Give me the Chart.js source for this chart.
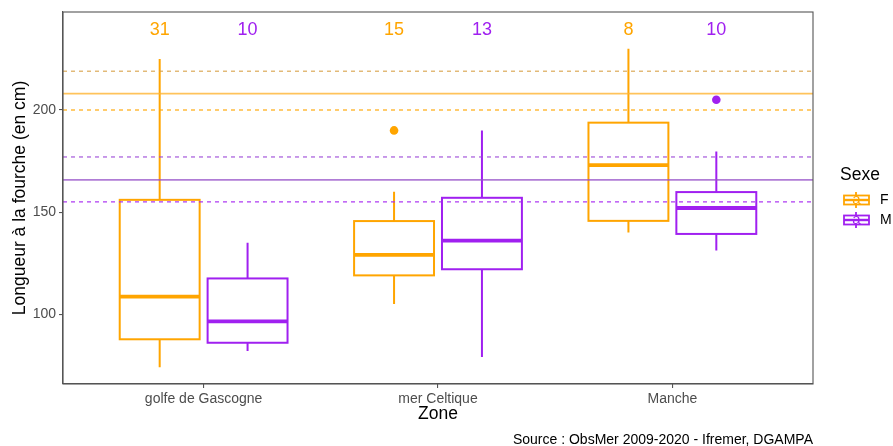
<!DOCTYPE html>
<html>
<head>
<meta charset="utf-8">
<script src="https://cdn.jsdelivr.net/npm/chart.js@4.4.1/dist/chart.umd.min.js"></script>
<style>
  body { margin: 0; background: #fff; }
  #wrap { width: 893px; height: 446px; }
</style>
</head>
<body>
<div id="wrap"><canvas id="boxChart"></canvas></div>
<script>
const zones = ['golfe de Gascogne', 'mer Celtique', 'Manche'];
const sexes = ['F', 'M'];
const colors = ['#FFA500', '#A020F0'];

// [min, q1, median, q3, max] per zone
const statsF = [[74, 87.7, 108.6, 156, 225], [105, 119, 129, 145.6, 160], [140, 145.7, 173, 193.8, 230]];
const statsM = [[82, 86, 96.5, 117.5, 135], [79, 122, 136, 157, 190], [131.2, 139.3, 152, 159.8, 179.7]];
const outliersF = [[], [190], []];
const outliersM = [[], [], [205]];
const countsF = [31, 15, 8];
const countsM = [10, 13, 10];

// mean length and its band, per sex
const meanF = 208;
const bandF = [200, 219];
const meanM = 165.8;
const bandM = [155, 177];

const yTicks = [100, 150, 200];

const dodge = [-0.1875, 0.1875];
const boxWidth = 0.341;
const countY = 239.4;

Chart.defaults.font.family = "'Liberation Sans', Arial, sans-serif";

function outlierPoints(list, s) {
  const pts = [];
  list.forEach((vals, i) => vals.forEach(v => pts.push({ x: i + dodge[s], y: v })));
  return pts;
}

function hline(v, color, dash, width) {
  return {
    type: 'line',
    data: [{ x: -0.6, y: v }, { x: 2.6, y: v }],
    borderColor: color,
    borderWidth: width,
    borderDash: dash,
    pointRadius: 0,
    fill: false
  };
}

// boxes and whiskers, drawn from the scales before the other datasets
const boxPlugin = {
  id: 'boxes',
  beforeDatasetsDraw(chart) {
    const { ctx, scales: { x, y } } = chart;
    [statsF, statsM].forEach((stats, s) => {
      stats.forEach((st, i) => {
        const cx = x.getPixelForValue(i + dodge[s]);
        const l = x.getPixelForValue(i + dodge[s] - boxWidth / 2);
        const r = x.getPixelForValue(i + dodge[s] + boxWidth / 2);
        const [lo, q1, med, q3, hi] = st.map(v => y.getPixelForValue(v));
        ctx.save();
        ctx.strokeStyle = colors[s];
        ctx.lineWidth = 2;
        ctx.beginPath();
        ctx.moveTo(cx, hi); ctx.lineTo(cx, q3);
        ctx.moveTo(cx, q1); ctx.lineTo(cx, lo);
        ctx.stroke();
        ctx.fillStyle = '#fff';
        ctx.fillRect(l, q3, r - l, q1 - q3);
        ctx.strokeRect(l, q3, r - l, q1 - q3);
        ctx.lineWidth = 3.8;
        ctx.beginPath();
        ctx.moveTo(l, med); ctx.lineTo(r, med);
        ctx.stroke();
        ctx.restore();
      });
    });
  },
  afterDraw(chart) {
    const { ctx, chartArea: a, scales: { x, y } } = chart;
    ctx.save();
    // panel border
    ctx.strokeStyle = '#555';
    ctx.lineWidth = 1.1;
    ctx.strokeRect(a.left, a.top, a.right - a.left, a.bottom - a.top);

    // counts above boxes
    ctx.font = "18px 'Liberation Sans', Arial, sans-serif";
    ctx.textAlign = 'center';
    ctx.textBaseline = 'middle';
    [countsF, countsM].forEach((counts, s) => {
      ctx.fillStyle = colors[s];
      counts.forEach((n, i) => ctx.fillText(String(n), x.getPixelForValue(i + dodge[s]), y.getPixelForValue(countY)));
    });

    // legend
    ctx.fillStyle = '#000';
    ctx.textAlign = 'left';
    ctx.font = "17.5px 'Liberation Sans', Arial, sans-serif";
    ctx.fillText('Sexe', 840, 175);
    sexes.forEach((sx, s) => {
      const cy = 200 + s * 20;
      ctx.strokeStyle = colors[s];
      ctx.lineWidth = 1.8;
      ctx.beginPath();
      ctx.moveTo(856, cy - 8); ctx.lineTo(856, cy - 4);
      ctx.moveTo(856, cy + 4); ctx.lineTo(856, cy + 8);
      ctx.stroke();
      ctx.strokeRect(844, cy - 4.5, 25, 9);
      ctx.lineWidth = 2.4;
      ctx.beginPath();
      ctx.moveTo(844, cy); ctx.lineTo(869, cy);
      ctx.stroke();
      ctx.fillStyle = colors[s];
      ctx.font = "15px 'Liberation Sans', Arial, sans-serif";
      ctx.textAlign = 'center';
      ctx.fillText('a', 856.5, cy);
      ctx.fillStyle = '#000';
      ctx.textAlign = 'left';
      ctx.font = "14px 'Liberation Sans', Arial, sans-serif";
      ctx.fillText(sx, 880, cy);
    });

    // caption
    ctx.fillStyle = '#000';
    ctx.textAlign = 'right';
    ctx.font = "14px 'Liberation Sans', Arial, sans-serif";
    ctx.fillText('Source : ObsMer 2009-2020 - Ifremer, DGAMPA', a.right, 440.5);
    ctx.restore();
  }
};

const ctx = document.getElementById('boxChart').getContext('2d');
const boxChart = new Chart(ctx, {
  type: 'scatter',
  data: {
    datasets: [
      hline(bandF[1], 'rgba(215,160,70,0.9)', [4, 4], 1.2),
      hline(bandF[0], 'rgba(255,165,0,0.95)', [4, 4], 1.2),
      hline(meanF, 'rgba(255,180,50,0.8)', [], 1.6),
      hline(bandM[1], 'rgba(155,70,215,0.9)', [4, 4], 1.2),
      hline(bandM[0], 'rgba(165,40,240,0.95)', [4, 4], 1.2),
      hline(meanM, 'rgba(150,80,200,0.75)', [], 1.6),
      {
        label: 'F',
        data: outlierPoints(outliersF, 0),
        backgroundColor: colors[0],
        borderWidth: 0,
        pointRadius: 4.3
      },
      {
        label: 'M',
        data: outlierPoints(outliersM, 1),
        backgroundColor: colors[1],
        borderWidth: 0,
        pointRadius: 4.3
      }
    ]
  },
  options: {
    responsive: true,
    maintainAspectRatio: false,
    animation: false,
    layout: { padding: { left: 0, right: 80, top: 12, bottom: 0 } },
    plugins: {
      legend: { display: false },
      tooltip: { enabled: false }
    },
    scales: {
      x: {
        type: 'linear',
        min: -0.6,
        max: 2.6,
        afterBuildTicks: axis => { axis.ticks = zones.map((z, i) => ({ value: i })); },
        afterFit: axis => { axis.height = 62; },
        ticks: {
          callback: v => zones[v],
          color: '#4D4D4D',
          font: { size: 14 },
          padding: 3,
          maxRotation: 0
        },
        grid: { drawOnChartArea: false, drawTicks: true, tickLength: 4, color: '#555', lineWidth: 1.1 },
        border: { display: true, color: '#555', width: 1.1 },
        title: { display: true, text: 'Zone', color: '#000', font: { size: 17.5 }, padding: { top: 0, bottom: 21 } }
      },
      y: {
        type: 'linear',
        min: 65.8,
        max: 248,
        afterBuildTicks: axis => { axis.ticks = yTicks.map(v => ({ value: v })); },
        afterFit: axis => { axis.width = 63; },
        ticks: {
          color: '#4D4D4D',
          font: { size: 14 },
          padding: 3
        },
        grid: { drawOnChartArea: false, drawTicks: true, tickLength: 4, color: '#555', lineWidth: 1.1 },
        border: { display: true, color: '#555', width: 1.1 },
        title: { display: true, text: 'Longueur à la fourche (en cm)', color: '#000', font: { size: 17.5 }, padding: { top: 10, bottom: 0 } }
      }
    }
  },
  plugins: [boxPlugin]
});
</script>
</body>
</html>
